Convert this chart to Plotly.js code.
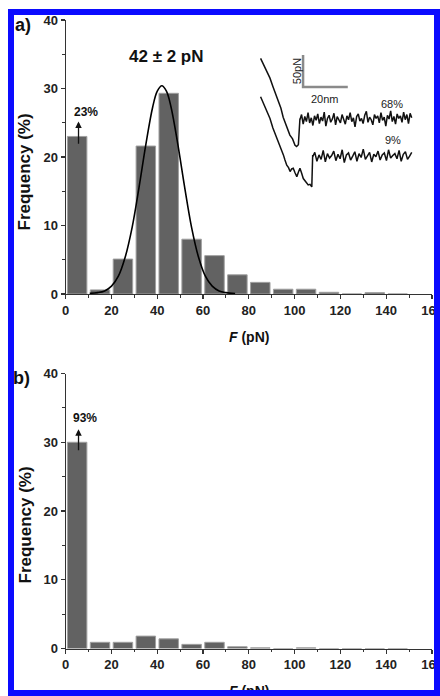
<!DOCTYPE html>
<html><head><meta charset="utf-8">
<script src="https://cdn.plot.ly/plotly-3.0.1.min.js"></script>
<style>
html,body{margin:0;padding:0;background:#fff;}
#wrap{position:relative;width:440px;height:696px;overflow:hidden;}
#chart{width:440px;height:696px;}
#frame{position:absolute;left:8px;top:9px;width:432px;height:687px;border:6px solid #0b0bff;box-sizing:border-box;pointer-events:none;}
</style></head><body>
<div id="wrap"><div id="chart"></div><div id="frame"></div></div>
<script>
// ---- data ----
const binCenters = [5,15,25,35,45,55,65,75,85,95,105,115,125,135,145];
const freqA = [23.0,0.6,5.1,21.6,29.3,8.0,5.6,2.8,1.7,0.7,0.7,0.25,0,0.2,0];
const freqB = [30.0,0.9,0.9,1.8,1.4,0.6,0.9,0.25,0.1,0,0.1,0,0,0,0];
const xTicks = [0,20,40,60,80,100,120,140,160];
const yTicks = [0,10,20,30,40];
// Gaussian fit curve
const fitX = [10.5,14,17,20,23,26,29,32,35,38,40,42,44,46,49,52,55,58,61,64,67,70,74];
const fitY = [0.1,0.2,0.45,1.15,2.6,5.4,9.7,15.5,21.8,27.3,29.6,30.4,29.6,27.3,21.8,15.5,9.7,5.4,2.6,1.15,0.45,0.2,0.05];
// Inset force-extension traces (nm, pN)
const t1ApproachX = [2.5,4.0,5.6,6.7,8.0,9.2,10.4,11.6,12.6,13.4,14.5,15.6,16.8,17.9,18.6,19.4,20.1];
const t1ApproachY = [209,198,186,178,165,153,141,131,117,110,98,89,83,73,71,74,115];
const t1FlatY = [113,121,106,118,110,124,108,116,104,119,112,122,107,117,111,125,103,115,120,109,114,123,105,118,112,108,121,114,106,119,113,124,110,116,102,118,122,111,115,107,120,126,109,117,113,105,121,115,119,108,124,112,117,103,120,114,127,110,118,106,122,115,119,109,125,113,121,107,123,116];
const t1FlatRange = [20.1,70.1];
const t2ApproachX = [2.5,4.2,5.5,6.7,8.0,9.2,10.4,11.5,12.7,13.4,14.2,15.0,15.7,16.4,17.1,17.9,18.7,19.4,20.1,20.8,21.6,22.7,23.8,24.6,25.4,25.8];
const t2ApproachY = [149,134,125,115,100,90,79,70,58,50,42,38,32,36,37,30,24,31,37,30,21,16,11,12,8,58];
const t2FlatY = [55,62,48,58,51,65,47,60,53,57,64,49,59,52,66,46,58,61,50,56,63,48,60,54,67,51,57,62,47,59,55,64,50,58,61,49,66,53,57,60,52,65,48,59,63,51,56,62];
const t2FlatRange = [25.8,70.1];
const scaleBarX = [21.5,21.5,41.5];
const scaleBarY = [214,164,164];

// ---- helpers ----
const W = 440, H = 696;
const px = v => v / W;
const py = v => 1 - v / H;
const FONT = 'Liberation Sans, Arial, Helvetica, sans-serif';

function flatX(range, n){ const a=[]; for(let i=0;i<n;i++) a.push(range[0]+(range[1]-range[0])*i/(n-1)); return a; }

const barStyle = {color:'#626262', line:{color:'#a0a0a0', width:1}};

const traces = [
  {type:'bar', x:binCenters, y:freqA, xaxis:'x', yaxis:'y', marker:barStyle, hoverinfo:'none'},
  {type:'scatter', mode:'lines', x:fitX, y:fitY, xaxis:'x', yaxis:'y', line:{color:'#000', width:1.6, shape:'spline', smoothing:1}, hoverinfo:'none'},
  {type:'bar', x:binCenters, y:freqB, xaxis:'x2', yaxis:'y2', marker:barStyle, hoverinfo:'none'},
  {type:'scatter', mode:'lines', x:t1ApproachX.concat(flatX(t1FlatRange,t1FlatY.length)), y:t1ApproachY.concat(t1FlatY), xaxis:'x3', yaxis:'y3', line:{color:'#111', width:1.5}, hoverinfo:'none'},
  {type:'scatter', mode:'lines', x:t2ApproachX.concat(flatX(t2FlatRange,t2FlatY.length)), y:t2ApproachY.concat(t2FlatY), xaxis:'x3', yaxis:'y3', line:{color:'#111', width:1.5}, hoverinfo:'none'},
  {type:'scatter', mode:'lines', x:scaleBarX, y:scaleBarY, xaxis:'x3', yaxis:'y3', line:{color:'#8a8a8a', width:2.5}, hoverinfo:'none'}
];

const tickFont = {family:FONT, size:13, weight:'bold', color:'#222'};
function xAx(anchor){
  return {domain:[px(65.7), px(432)], range:[0,160], anchor:anchor, showline:true, linecolor:'#333', linewidth:1.2,
    ticks:'outside', ticklen:4, tickwidth:1.2, tickcolor:'#333', tickvals:xTicks, tickfont:tickFont,
    ticklabeloverflow:'allow',
    minor:{dtick:10, ticks:'outside', ticklen:2.5, tickwidth:1, tickcolor:'#333'},
    showgrid:false, zeroline:false, fixedrange:true};
}
function yAx(anchor, top, bottom){
  return {domain:[py(bottom), py(top)], range:[0,40], anchor:anchor, showline:true, linecolor:'#333', linewidth:1.2,
    ticks:'outside', ticklen:4, tickwidth:1.2, tickcolor:'#333', tickvals:yTicks, tickfont:tickFont,
    ticklabeloverflow:'allow',
    minor:{dtick:5, ticks:'outside', ticklen:2.5, tickwidth:1, tickcolor:'#333'},
    showgrid:false, zeroline:false, fixedrange:true};
}

function ann(text, xp, yp, size, extra){
  return Object.assign({text:text, xref:'paper', yref:'paper', x:px(xp), y:py(yp), xanchor:'center', yanchor:'middle',
    showarrow:false, font:{family:FONT, size:size, color:'#111'}}, extra||{});
}
function arrow(xa, ya, y0, y1){
  return {xref:xa, yref:ya, axref:xa, ayref:ya, x:5.6, y:y1, ax:5.6, ay:y0, text:'', showarrow:true,
    arrowhead:2, arrowsize:1, arrowwidth:1.3, arrowcolor:'#111', standoff:0, startstandoff:0};
}
function insetText(text, x, y, size, extra){
  return Object.assign({text:text, xref:'x3', yref:'y3', x:x, y:y, showarrow:false, xanchor:'center', yanchor:'middle',
    font:{family:FONT, size:size, color:'#222'}}, extra||{});
}

const layout = {
  width:W, height:H, margin:{l:0,r:0,t:0,b:0}, paper_bgcolor:'#fff', plot_bgcolor:'rgba(0,0,0,0)',
  showlegend:false, bargap:0.15,
  xaxis:xAx('y'), yaxis:yAx('x', 20, 294),
  xaxis2:xAx('y2'), yaxis2:yAx('x2', 373.5, 648.5),
  xaxis3:{domain:[px(255), px(420)], range:[0,73.8], anchor:'y3', visible:false, fixedrange:true},
  yaxis3:{domain:[py(192), py(50)], range:[0,222], anchor:'x3', visible:false, fixedrange:true},
  annotations:[
    ann('<b>a)</b>', 23, 25, 18, {xanchor:'center'}),
    ann('<b>b)</b>', 21, 378, 18),
    ann('<b>42 ± 2 pN</b>', 166, 57, 17),
    ann('<b>Frequency (%)</b>', 24.5, 172, 17, {textangle:-90}),
    ann('<b>Frequency (%)</b>', 24.5, 525, 17, {textangle:-90}),
    ann('<b><i>F</i> (pN)</b>', 249, 337, 14),
    ann('<b><i>F</i> (pN)</b>', 249, 691, 14),
    ann('<b>23%</b>', 86, 112, 12),
    ann('<b>93%</b>', 85, 418, 12),
    arrow('x','y', 21.7, 25.2),
    arrow('x2','y2', 28.6, 31.9),
    insetText('68%', 61.3, 138, 11),
    insetText('9%', 61.7, 81, 11),
    insetText('20nm', 31.3, 146, 11),
    insetText('50pN', 18.8, 189, 11, {textangle:-90})
  ]
};

Plotly.newPlot('chart', traces, layout, {staticPlot:true, displayModeBar:false});
</script></body></html>
